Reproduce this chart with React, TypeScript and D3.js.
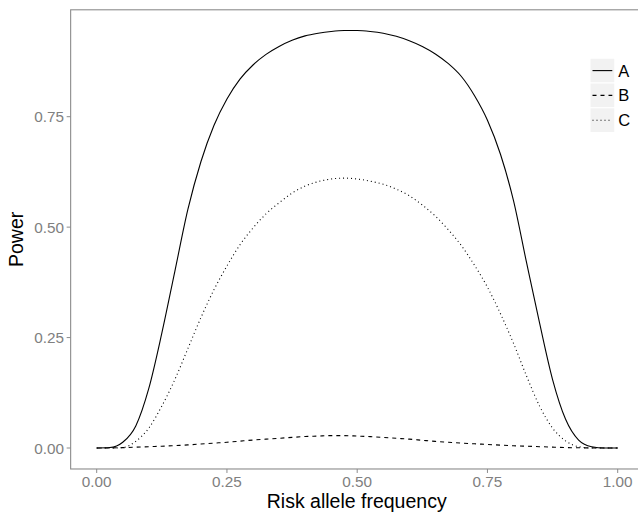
import { useEffect, useRef } from 'react';
import * as d3 from 'd3';

// allele frequency grid
const freqs = [
  0, 0.025, 0.05, 0.075, 0.1, 0.125, 0.15, 0.175, 0.2, 0.225, 0.25, 0.275, 0.3, 0.325, 0.35, 0.375, 0.4,
  0.425, 0.45, 0.475, 0.5, 0.525, 0.55, 0.575, 0.6, 0.625, 0.65, 0.675, 0.7, 0.725, 0.75, 0.775, 0.8,
  0.825, 0.85, 0.875, 0.9, 0.925, 0.95, 0.975, 1,
];

const powerA = [
  0, 0.001, 0.013, 0.05, 0.135, 0.26, 0.4, 0.54, 0.648, 0.73, 0.79, 0.835, 0.867, 0.891, 0.909, 0.923, 0.933,
  0.939, 0.943, 0.945, 0.945, 0.943, 0.939, 0.932, 0.922, 0.909, 0.892, 0.87, 0.841, 0.798, 0.742, 0.665, 0.56,
  0.42, 0.283, 0.155, 0.065, 0.018, 0.003, 0, 0,
];

const powerB = [
  0, 0.0002, 0.0008, 0.0018, 0.003, 0.004, 0.0055, 0.007, 0.009, 0.011, 0.013, 0.0155, 0.018, 0.02, 0.022, 0.024, 0.026,
  0.027, 0.028, 0.028, 0.027, 0.0258, 0.024, 0.022, 0.02, 0.0175, 0.015, 0.013, 0.011, 0.0095, 0.008, 0.0065, 0.005,
  0.004, 0.003, 0.002, 0.001, 0.0005, 0.0002, 0, 0,
];

const powerC = [
  0, 0, 0.001, 0.015, 0.045, 0.095, 0.155, 0.225, 0.295, 0.358, 0.412, 0.46, 0.498, 0.53, 0.555, 0.577, 0.593,
  0.603, 0.609, 0.611, 0.609, 0.604, 0.597, 0.586, 0.571, 0.55, 0.525, 0.494, 0.458, 0.414, 0.364, 0.304, 0.237,
  0.163, 0.095, 0.045, 0.016, 0.003, 0, 0, 0,
];

const seriesNames = ['A', 'B', 'C'];
const seriesDash = ['none', '4,4', '1,3'];
const xTicks = [0, 0.25, 0.5, 0.75, 1];
const yTicks = [0, 0.25, 0.5, 0.75];

export default function App() {
  const svgRef = useRef<SVGSVGElement>(null);

  useEffect(() => {
    if (!svgRef.current) return;
    document.body.style.margin = '0';

    const svg = d3.select(svgRef.current);
    svg.selectAll('*').remove();

    const width = 638;
    const height = 515;
    const font = 'Liberation Sans, Arial, Helvetica, sans-serif';

    svg.attr('width', width).attr('height', height);

    const x = d3.scaleLinear().domain([0, 1]).range([96.7, 617.7]);
    const y = d3.scaleLinear().domain([0, 0.75]).range([448, 116.7]);

    const left = x(-0.05);
    const right = x(1.05);
    const top = y(0.992);
    const bottom = y(-0.0475);

    svg.append('rect')
      .attr('width', width)
      .attr('height', height)
      .attr('fill', '#fff');

    // Panel border
    svg.append('rect')
      .attr('x', left)
      .attr('y', top)
      .attr('width', right - left)
      .attr('height', bottom - top)
      .attr('fill', 'none')
      .attr('stroke', '#8c8c8c')
      .attr('stroke-width', 1.1);

    // Ticks
    const tickColor = '#8c8c8c';
    const textColor = '#808080';

    svg.append('g')
      .selectAll('line')
      .data(xTicks)
      .join('line')
      .attr('x1', d => x(d))
      .attr('x2', d => x(d))
      .attr('y1', bottom)
      .attr('y2', bottom + 4)
      .attr('stroke', tickColor);

    svg.append('g')
      .selectAll('text')
      .data(xTicks)
      .join('text')
      .attr('x', d => x(d))
      .attr('y', 486.8)
      .attr('text-anchor', 'middle')
      .style('fill', textColor)
      .style('font-family', font)
      .style('font-size', '15.3px')
      .text(d => d.toFixed(2));

    svg.append('g')
      .selectAll('line')
      .data(yTicks)
      .join('line')
      .attr('x1', left - 4)
      .attr('x2', left)
      .attr('y1', d => y(d))
      .attr('y2', d => y(d))
      .attr('stroke', tickColor);

    svg.append('g')
      .selectAll('text')
      .data(yTicks)
      .join('text')
      .attr('x', 64)
      .attr('y', d => y(d))
      .attr('dy', '0.36em')
      .attr('text-anchor', 'end')
      .style('fill', textColor)
      .style('font-family', font)
      .style('font-size', '15.3px')
      .text(d => d.toFixed(2));

    // Axis titles
    svg.append('text')
      .attr('x', (left + right) / 2 - 0.5)
      .attr('y', 507.5)
      .attr('text-anchor', 'middle')
      .style('fill', '#000')
      .style('font-family', font)
      .style('font-size', '19.5px')
      .text('Risk allele frequency');

    svg.append('text')
      .attr('transform', `translate(23, ${(top + bottom) / 2}) rotate(-90)`)
      .attr('text-anchor', 'middle')
      .style('fill', '#000')
      .style('font-family', font)
      .style('font-size', '19.5px')
      .text('Power');

    // Lines
    const allSeries = [powerA, powerB, powerC];
    const line = d3.line<number>()
      .x((_, i) => x(freqs[i]))
      .y(d => y(d))
      .curve(d3.curveMonotoneX);

    allSeries.forEach((vals, i) => {
      svg.append('path')
        .datum(vals)
        .attr('d', line)
        .attr('fill', 'none')
        .attr('stroke', '#000')
        .attr('stroke-width', 1.1)
        .attr('stroke-dasharray', seriesDash[i]);
    });

    // Legend
    const keySize = 24.8;
    const legendX = 590;
    const legendY = 58.2;
    const legend = svg.append('g').attr('transform', `translate(${legendX}, ${legendY})`);

    seriesNames.forEach((name, i) => {
      const g = legend.append('g').attr('transform', `translate(0, ${i * keySize})`);
      g.append('rect')
        .attr('width', keySize)
        .attr('height', keySize)
        .attr('fill', '#f2f2f2')
        .attr('stroke', '#fff')
        .attr('stroke-width', 1);
      g.append('line')
        .attr('x1', 2.5)
        .attr('x2', keySize - 2.5)
        .attr('y1', keySize / 2)
        .attr('y2', keySize / 2)
        .attr('stroke', '#000')
        .attr('stroke-width', 1.1)
        .attr('stroke-dasharray', seriesDash[i]);
      g.append('text')
        .attr('x', keySize + 3.5)
        .attr('y', keySize / 2)
        .attr('dy', '0.36em')
        .style('fill', '#000')
        .style('font-family', font)
        .style('font-size', '16.5px')
        .text(name);
    });
  }, []);

  return (
    <div>
      <svg ref={svgRef} style={{ display: 'block' }} />
    </div>
  );
}
